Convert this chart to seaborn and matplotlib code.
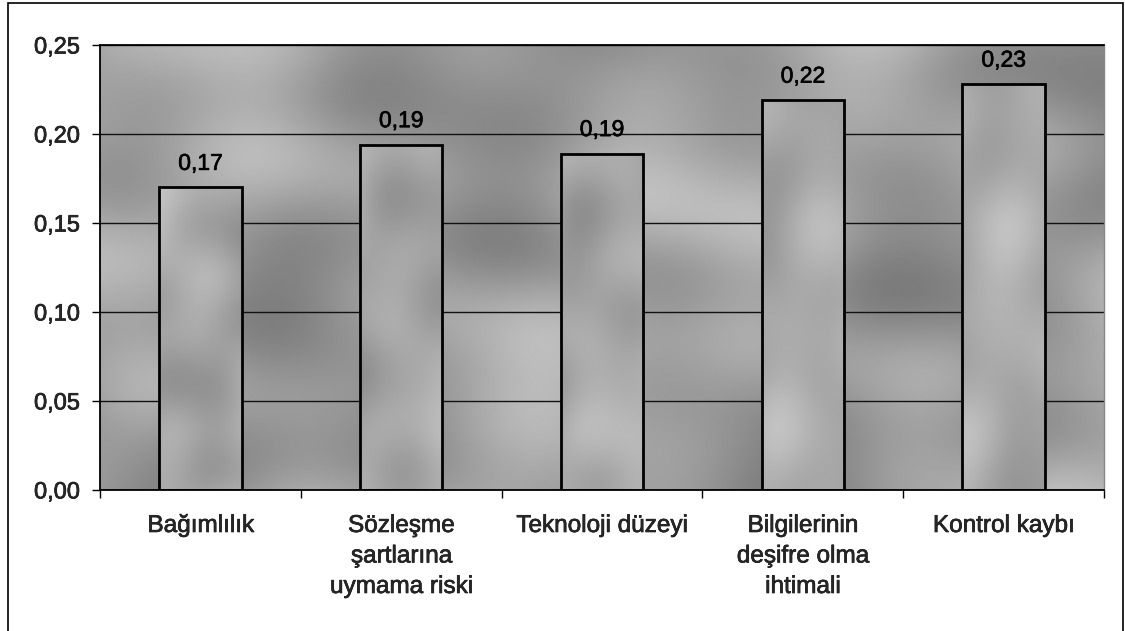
import numpy as np
import pandas as pd
import matplotlib
matplotlib.use("Agg")
import matplotlib.pyplot as plt
import matplotlib.patheffects as pe
from matplotlib.patches import Rectangle
from matplotlib.ticker import FixedLocator, FuncFormatter
import seaborn as sns

# Risk factors and their weights
categories = [
    "Bağımlılık",
    "Sözleşme\nşartlarına\nuymama riski",
    "Teknoloji düzeyi",
    "Bilgilerinin\ndeşifre olma\nihtimali",
    "Kontrol kaybı",
]
weights = [0.170, 0.194, 0.189, 0.219, 0.228]
y_ticks = [0.00, 0.05, 0.10, 0.15, 0.20, 0.25]

df = pd.DataFrame({"risk": categories, "weight": weights})

sns.set_theme(style="white")
plt.rcParams["font.family"] = ["Liberation Sans", "DejaVu Sans"]

heavy = [pe.withStroke(linewidth=0.45, foreground="black")]


def cloud_texture(nx, ny, phase, base, amp, scale=1.0):
    """Soft, cloudy grey texture built from a few crossing waves."""
    x = np.linspace(0, scale, nx)[None, :]
    y = np.linspace(0, 1, ny)[:, None]
    t = (np.sin(2 * np.pi * (1.7 * x + 0.6 * y) + phase)
         + 0.8 * np.sin(2 * np.pi * (2.9 * x - 1.3 * y) + 1.9 * phase)
         + 0.6 * np.sin(2 * np.pi * (0.8 * x + 2.4 * y + 0.3 * np.sin(6 * x)) + 0.7)
         + 0.5 * np.sin(2 * np.pi * (5.1 * x + 0.9 * y) + 2.2)
         + 0.4 * np.sin(2 * np.pi * (1.1 * x - 3.7 * y) + phase * 0.5))
    t = t / np.abs(t).max()
    return np.clip(base + amp * t, 0, 1)


fig = plt.figure(figsize=(11.25, 6.31), dpi=100)
ax = fig.add_axes([0.0889, 0.2235, 0.8924, 0.7052])

sns.barplot(data=df, x="risk", y="weight", ax=ax, width=0.41,
            color="white", edgecolor="black", linewidth=2.0, zorder=2)

# textured plot-area background
bg = cloud_texture(500, 250, 0.0, 0.62, 0.14)
ax.imshow(bg, cmap="gray", vmin=0, vmax=1, extent=(-0.5, 4.5, 0, 0.25),
          aspect="auto", zorder=0, interpolation="bilinear")

# textured bar fills, clipped to each bar
for i, patch in enumerate(ax.patches):
    x0, y0 = patch.get_x(), patch.get_y()
    w, h = patch.get_width(), patch.get_height()
    tex = cloud_texture(80, 200, 1.3 + i * 0.9, 0.66, 0.10, scale=0.2)
    im = ax.imshow(tex, cmap="gray", vmin=0, vmax=1,
                   extent=(x0, x0 + w, y0, y0 + h), aspect="auto",
                   zorder=1.5, interpolation="bilinear")
    im.set_clip_path(patch)
    patch.set_facecolor("none")
ax.set_xlim(-0.5, len(categories) - 0.5)
ax.set_ylim(0, 0.25)

# gridlines
ax.set_axisbelow(True)
ax.yaxis.set_major_locator(FixedLocator(y_ticks))
ax.grid(axis="y", color="#111111", linewidth=1.0, zorder=0.5)
ax.grid(axis="x", visible=False)

# value labels
texts = ax.bar_label(ax.containers[0],
                     labels=[f"{v:.2f}".replace(".", ",") for v in weights],
                     padding=9, fontsize=16.5, color="black")
for t in texts:
    t.set_path_effects(heavy)

# axes styling
ax.yaxis.set_major_formatter(FuncFormatter(lambda v, _: f"{v:.2f}".replace(".", ",")))
ax.tick_params(axis="y", which="major", direction="out", length=6, width=1.0,
               color="black", labelsize=17, pad=8.5, left=True)
ax.set_xticks(range(len(categories)))
ax.set_xticklabels(categories, fontsize=17.5, linespacing=1.5)
ax.tick_params(axis="x", which="major", length=0, pad=18)
ax.xaxis.set_minor_locator(FixedLocator(np.arange(-0.5, len(categories), 1.0)))
ax.tick_params(axis="x", which="minor", direction="out", length=6, width=1.0,
               color="black", bottom=True)
for lbl in ax.get_xticklabels() + ax.get_yticklabels():
    lbl.set_path_effects(heavy)
ax.set_xlabel("")
ax.set_ylabel("")

for side in ["left", "bottom", "top"]:
    ax.spines[side].set_visible(True)
    ax.spines[side].set_color("black")
    ax.spines[side].set_linewidth(1.3)
ax.spines["right"].set_color("#888888")
ax.spines["right"].set_linewidth(1.0)

# chart-area frame
fig.patches.append(Rectangle((8 / 1125, -0.02), (1123 - 8) / 1125, 1.02 - 3 / 631,
                             transform=fig.transFigure, fill=False,
                             edgecolor="black", linewidth=1.2))

fig.savefig("out.png", dpi=100)
